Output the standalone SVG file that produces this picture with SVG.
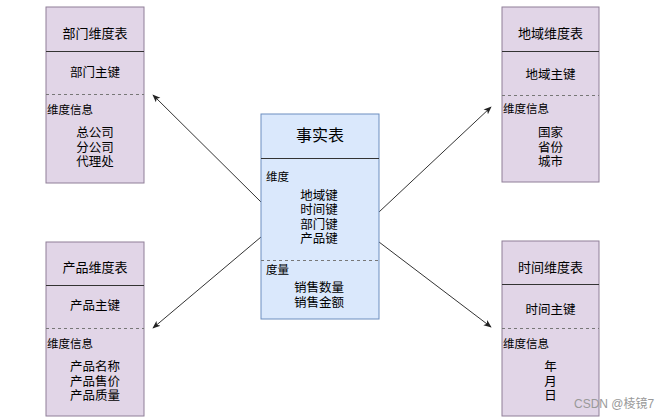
<svg xmlns="http://www.w3.org/2000/svg" width="669" height="419" viewBox="0 0 669 419">
<defs>
<marker id="arr" viewBox="0 0 10 10" refX="9" refY="5" markerWidth="8" markerHeight="8" markerUnits="userSpaceOnUse" orient="auto">
<path d="M0,1 L10,5 L0,9 L2.5,5 Z" fill="#222"/>
</marker>
<style>
text{font-family:"Liberation Sans","Noto Sans CJK SC",sans-serif;fill:#000;}
.dim{fill:#e1d5e7;stroke:#8f7f98;stroke-width:1;}
.fact{fill:#dae8fc;stroke:#6c8ebf;stroke-width:1;}
.hl{stroke:#333;stroke-width:1;}
.dl{stroke:#777;stroke-width:1;stroke-dasharray:3,3;}
.t{font-size:13px;text-anchor:middle;}
.k{font-size:12.5px;text-anchor:middle;}
.s{font-size:11.5px;}
.c{font-size:12.5px;text-anchor:middle;}
.ft{font-size:16px;text-anchor:middle;}
.edge{stroke:#333;stroke-width:1;fill:none;marker-end:url(#arr);}
</style>
</defs>
<rect width="669" height="419" fill="#fff"/>
<g id="connectors">
<line class="edge" x1="261" y1="202" x2="153" y2="95"/>
<line class="edge" x1="261" y1="237" x2="153" y2="328"/>
<line class="edge" x1="379" y1="212" x2="491" y2="107"/>
<line class="edge" x1="379" y1="242" x2="491" y2="327"/>
</g>
<g id="dept">
<rect class="dim" x="46" y="7" width="98" height="176"/>
<line class="hl" x1="46" y1="51.5" x2="144" y2="51.5"/>
<line class="dl" x1="46" y1="94.5" x2="144" y2="94.5"/>
<text class="t" x="95" y="37.5">部门维度表</text>
<text class="k" x="95" y="76.5">部门主键</text>
<text class="s" x="47" y="114">维度信息</text>
<text class="c" x="95" y="137">总公司</text>
<text class="c" x="95" y="151.5">分公司</text>
<text class="c" x="95" y="166">代理处</text>
</g>
<g id="product">
<rect class="dim" x="46" y="242" width="98" height="174"/>
<line class="hl" x1="46" y1="285.5" x2="144" y2="285.5"/>
<line class="dl" x1="46" y1="328.5" x2="144" y2="328.5"/>
<text class="t" x="95" y="272">产品维度表</text>
<text class="k" x="95" y="309.5">产品主键</text>
<text class="s" x="47" y="348">维度信息</text>
<text class="c" x="95" y="371">产品名称</text>
<text class="c" x="95" y="385.5">产品售价</text>
<text class="c" x="95" y="400">产品质量</text>
</g>
<g id="region">
<rect class="dim" x="502" y="7" width="97" height="175"/>
<line class="hl" x1="502" y1="51.5" x2="599" y2="51.5"/>
<line class="dl" x1="502" y1="95.5" x2="599" y2="95.5"/>
<text class="t" x="550.5" y="37.5">地域维度表</text>
<text class="k" x="550.5" y="79">地域主键</text>
<text class="s" x="503" y="113">维度信息</text>
<text class="c" x="550.5" y="137">国家</text>
<text class="c" x="550.5" y="151.5">省份</text>
<text class="c" x="550.5" y="166">城市</text>
</g>
<g id="time">
<rect class="dim" x="502" y="241" width="97" height="175"/>
<line class="hl" x1="502" y1="284.5" x2="599" y2="284.5"/>
<line class="dl" x1="502" y1="328.5" x2="599" y2="328.5"/>
<text class="t" x="550.5" y="271.5">时间维度表</text>
<text class="k" x="550.5" y="313.5">时间主键</text>
<text class="s" x="503" y="348">维度信息</text>
<text class="c" x="550.5" y="371">年</text>
<text class="c" x="550.5" y="385.5">月</text>
<text class="c" x="550.5" y="400">日</text>
</g>
<g id="fact">
<rect class="fact" x="261" y="114" width="118" height="205"/>
<line class="hl" x1="261" y1="158.5" x2="379" y2="158.5"/>
<line class="dl" x1="261" y1="260.5" x2="379" y2="260.5"/>
<text class="ft" x="320" y="140.5">事实表</text>
<text class="s" x="266" y="181">维度</text>
<text class="c" x="319" y="199.5">地域键</text>
<text class="c" x="319" y="214">时间键</text>
<text class="c" x="319" y="228.5">部门键</text>
<text class="c" x="319" y="243">产品键</text>
<text class="s" x="266" y="274">度量</text>
<text class="c" x="319" y="292">销售数量</text>
<text class="c" x="319" y="306.5">销售金额</text>
</g>
<text x="574" y="408" style="font-size:12px;fill:#999;">CSDN @棱镜7</text>
</svg>
